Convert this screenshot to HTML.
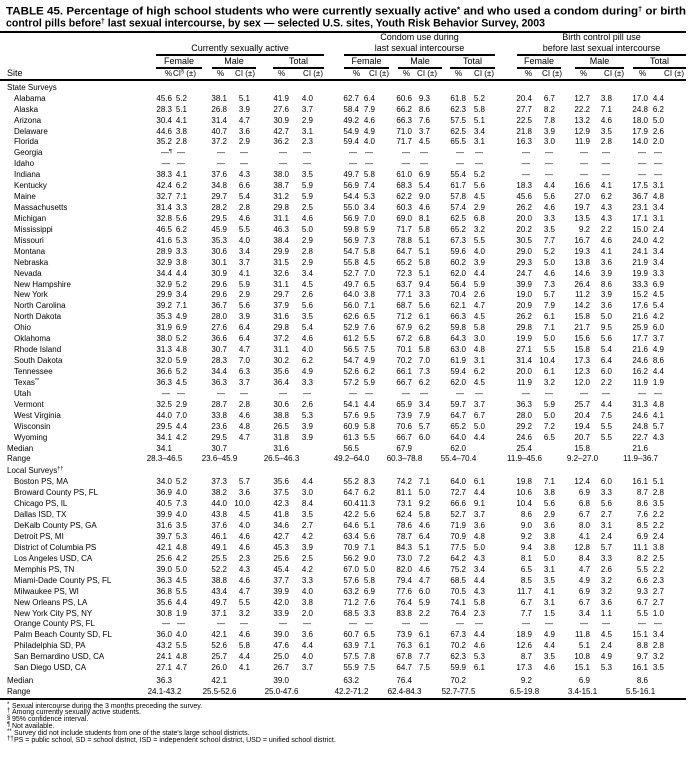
<!DOCTYPE html>
<html><head><meta charset="utf-8"><style>
*{margin:0;padding:0}
body{width:698px;height:768px;overflow:hidden;background:#fff;position:relative;font-family:"Liberation Sans",Arial,sans-serif;color:#000}
.a{position:absolute;white-space:nowrap;line-height:1}
.h{font-size:9px}
.s{font-size:8px}
.f{font-size:7px}
.c{text-align:center}
.rt{text-align:right}
.ln{position:absolute;background:#000;height:2px}
.sp{position:relative;top:-2.5px;font-size:5.5px}
.r{position:absolute;left:0;display:flex;font-size:8px;line-height:1;white-space:nowrap}
.r b{font-weight:normal;width:150px;padding-left:14px;box-sizing:border-box;flex:none}
.r b.t{padding-left:7px}
.r i{font-style:normal;text-align:right;flex:none;box-sizing:border-box}
.r i.d{padding-right:2px}
.r i:nth-of-type(1){width:22px}.r i:nth-of-type(2){width:15px}
.r i:nth-of-type(3){width:40px}.r i:nth-of-type(4){width:23px}
.r i:nth-of-type(5){width:39px}.r i:nth-of-type(6){width:24px}
.r i:nth-of-type(7){width:46px}.r i:nth-of-type(8){width:16px}
.r i:nth-of-type(9){width:37px}.r i:nth-of-type(10){width:18px}
.r i:nth-of-type(11){width:36px}.r i:nth-of-type(12){width:19px}
.r i:nth-of-type(13){width:47px}.r i:nth-of-type(14){width:23px}
.r i:nth-of-type(15){width:35px}.r i:nth-of-type(16){width:22px}
.r i:nth-of-type(17){width:36px}.r i:nth-of-type(18){width:16px}
.rg{position:absolute;width:60px;text-align:center;font-size:8px;line-height:1;white-space:nowrap}
</style></head><body>

<svg class="a" style="left:0;top:0" width="698" height="32">
<text x="6" y="14.5" font-family="Liberation Sans, Arial, sans-serif" font-size="11" font-weight="bold" textLength="680" lengthAdjust="spacingAndGlyphs">TABLE 45. Percentage of high school students who were currently sexually active<tspan font-size="8" dy="-2">*</tspan><tspan dy="2"> and who used a condom during</tspan><tspan font-size="7" dy="-3">†</tspan><tspan dy="3"> or birth</tspan></text>
<text x="6" y="26.5" font-family="Liberation Sans, Arial, sans-serif" font-size="11" font-weight="bold" textLength="539" lengthAdjust="spacingAndGlyphs">control pills before<tspan font-size="7" dy="-3">†</tspan><tspan dy="3"> last sexual intercourse, by sex — selected U.S. sites, Youth Risk Behavior Survey, 2003</tspan></text>
</svg>

<div class="ln" style="left:0;width:686px;top:31px"></div>

<div class="a h c" style="left:156px;width:168px;top:44.4px">Currently sexually active</div>
<div class="a h c" style="left:344px;width:151px;top:33.4px">Condom use during</div>
<div class="a h c" style="left:344px;width:151px;top:44.4px">last sexual intercourse</div>
<div class="a h c" style="left:517px;width:169px;top:33.4px">Birth control pill use</div>
<div class="a h c" style="left:517px;width:169px;top:44.4px">before last sexual intercourse</div>

<div class="ln" style="left:156px;width:168px;top:54px"></div>
<div class="ln" style="left:344px;width:151px;top:54px"></div>
<div class="ln" style="left:517px;width:169px;top:54px"></div>

<div class="a h c" style="left:156px;width:46px;top:57.2px">Female</div>
<div class="a h c" style="left:212px;width:44px;top:57.2px">Male</div>
<div class="a h c" style="left:273px;width:51px;top:57.2px">Total</div>
<div class="a h c" style="left:344px;width:45px;top:57.2px">Female</div>
<div class="a h c" style="left:398px;width:44px;top:57.2px">Male</div>
<div class="a h c" style="left:450px;width:45px;top:57.2px">Total</div>
<div class="a h c" style="left:517px;width:44px;top:57.2px">Female</div>
<div class="a h c" style="left:575px;width:49px;top:57.2px">Male</div>
<div class="a h c" style="left:633px;width:53px;top:57.2px">Total</div>

<div class="ln" style="left:156px;width:46px;top:67px"></div>
<div class="ln" style="left:212px;width:44px;top:67px"></div>
<div class="ln" style="left:273px;width:51px;top:67px"></div>
<div class="ln" style="left:344px;width:45px;top:67px"></div>
<div class="ln" style="left:398px;width:44px;top:67px"></div>
<div class="ln" style="left:450px;width:45px;top:67px"></div>
<div class="ln" style="left:517px;width:44px;top:67px"></div>
<div class="ln" style="left:575px;width:49px;top:67px"></div>
<div class="ln" style="left:633px;width:53px;top:67px"></div>

<div class="a h" style="left:7px;top:68.9px">Site</div>
<div class="a s" style="left:165px;top:69.7px">%</div>
<div class="a s" style="left:217px;top:69.7px">%</div>
<div class="a s" style="left:278px;top:69.7px">%</div>
<div class="a s" style="left:353px;top:69.7px">%</div>
<div class="a s" style="left:403px;top:69.7px">%</div>
<div class="a s" style="left:455px;top:69.7px">%</div>
<div class="a s" style="left:525px;top:69.7px">%</div>
<div class="a s" style="left:580px;top:69.7px">%</div>
<div class="a s" style="left:639px;top:69.7px">%</div>
<div class="a s rt" style="right:502px;top:69.7px">CI<span class="sp">§</span> (±)</div>
<div class="a s rt" style="right:443px;top:69.7px">CI (±)</div>
<div class="a s rt" style="right:375px;top:69.7px">CI (±)</div>
<div class="a s rt" style="right:309px;top:69.7px">CI (±)</div>
<div class="a s rt" style="right:261px;top:69.7px">CI (±)</div>
<div class="a s rt" style="right:204px;top:69.7px">CI (±)</div>
<div class="a s rt" style="right:136px;top:69.7px">CI (±)</div>
<div class="a s rt" style="right:74px;top:69.7px">CI (±)</div>
<div class="a s rt" style="right:14px;top:69.7px">CI (±)</div>

<div class="ln" style="left:0;width:686px;top:79px"></div>

<div class="a s" style="left:7px;top:84.2px">State Surveys</div>

<div class="r" style="top:94.7px"><b>Alabama</b><i>45.6</i><i>5.2</i><i>38.1</i><i>5.1</i><i>41.9</i><i>4.0</i><i>62.7</i><i>6.4</i><i>60.6</i><i>9.3</i><i>61.8</i><i>5.2</i><i>20.4</i><i>6.7</i><i>12.7</i><i>3.8</i><i>17.0</i><i>4.4</i></div>
<div class="r" style="top:105.6px"><b>Alaska</b><i>28.3</i><i>5.1</i><i>26.8</i><i>3.9</i><i>27.6</i><i>3.7</i><i>58.4</i><i>7.9</i><i>66.2</i><i>8.6</i><i>62.3</i><i>5.8</i><i>27.7</i><i>8.2</i><i>22.2</i><i>7.1</i><i>24.8</i><i>6.2</i></div>
<div class="r" style="top:116.6px"><b>Arizona</b><i>30.4</i><i>4.1</i><i>31.4</i><i>4.7</i><i>30.9</i><i>2.9</i><i>49.2</i><i>4.6</i><i>66.3</i><i>7.6</i><i>57.5</i><i>5.1</i><i>22.5</i><i>7.8</i><i>13.2</i><i>4.6</i><i>18.0</i><i>5.0</i></div>
<div class="r" style="top:127.5px"><b>Delaware</b><i>44.6</i><i>3.8</i><i>40.7</i><i>3.6</i><i>42.7</i><i>3.1</i><i>54.9</i><i>4.9</i><i>71.0</i><i>3.7</i><i>62.5</i><i>3.4</i><i>21.8</i><i>3.9</i><i>12.9</i><i>3.5</i><i>17.9</i><i>2.6</i></div>
<div class="r" style="top:138.4px"><b>Florida</b><i>35.2</i><i>2.8</i><i>37.2</i><i>2.9</i><i>36.2</i><i>2.3</i><i>59.4</i><i>4.0</i><i>71.7</i><i>4.5</i><i>65.5</i><i>3.1</i><i>16.3</i><i>3.0</i><i>11.9</i><i>2.8</i><i>14.0</i><i>2.0</i></div>
<div class="r" style="top:149.4px"><b>Georgia</b><i>—<span class="sp">¶</span></i><i class="d">—</i><i class="d">—</i><i class="d">—</i><i class="d">—</i><i class="d">—</i><i class="d">—</i><i class="d">—</i><i class="d">—</i><i class="d">—</i><i class="d">—</i><i class="d">—</i><i class="d">—</i><i class="d">—</i><i class="d">—</i><i class="d">—</i><i class="d">—</i><i class="d">—</i></div>
<div class="r" style="top:160.3px"><b>Idaho</b><i class="d">—</i><i class="d">—</i><i class="d">—</i><i class="d">—</i><i class="d">—</i><i class="d">—</i><i class="d">—</i><i class="d">—</i><i class="d">—</i><i class="d">—</i><i class="d">—</i><i class="d">—</i><i class="d">—</i><i class="d">—</i><i class="d">—</i><i class="d">—</i><i class="d">—</i><i class="d">—</i></div>
<div class="r" style="top:171.2px"><b>Indiana</b><i>38.3</i><i>4.1</i><i>37.6</i><i>4.3</i><i>38.0</i><i>3.5</i><i>49.7</i><i>5.8</i><i>61.0</i><i>6.9</i><i>55.4</i><i>5.2</i><i class="d">—</i><i class="d">—</i><i class="d">—</i><i class="d">—</i><i class="d">—</i><i class="d">—</i></div>
<div class="r" style="top:182.1px"><b>Kentucky</b><i>42.4</i><i>6.2</i><i>34.8</i><i>6.6</i><i>38.7</i><i>5.9</i><i>56.9</i><i>7.4</i><i>68.3</i><i>5.4</i><i>61.7</i><i>5.6</i><i>18.3</i><i>4.4</i><i>16.6</i><i>4.1</i><i>17.5</i><i>3.1</i></div>
<div class="r" style="top:193.1px"><b>Maine</b><i>32.7</i><i>7.1</i><i>29.7</i><i>5.4</i><i>31.2</i><i>5.9</i><i>54.4</i><i>5.3</i><i>62.2</i><i>9.0</i><i>57.8</i><i>4.5</i><i>45.6</i><i>5.6</i><i>27.0</i><i>6.2</i><i>36.7</i><i>4.8</i></div>
<div class="r" style="top:204.0px"><b>Massachusetts</b><i>31.4</i><i>3.3</i><i>28.2</i><i>2.8</i><i>29.8</i><i>2.5</i><i>55.0</i><i>3.4</i><i>60.3</i><i>4.6</i><i>57.4</i><i>2.9</i><i>26.2</i><i>4.6</i><i>19.7</i><i>4.3</i><i>23.1</i><i>3.4</i></div>
<div class="r" style="top:214.9px"><b>Michigan</b><i>32.8</i><i>5.6</i><i>29.5</i><i>4.6</i><i>31.1</i><i>4.6</i><i>56.9</i><i>7.0</i><i>69.0</i><i>8.1</i><i>62.5</i><i>6.8</i><i>20.0</i><i>3.3</i><i>13.5</i><i>4.3</i><i>17.1</i><i>3.1</i></div>
<div class="r" style="top:225.9px"><b>Mississippi</b><i>46.5</i><i>6.2</i><i>45.9</i><i>5.5</i><i>46.3</i><i>5.0</i><i>59.8</i><i>5.9</i><i>71.7</i><i>5.8</i><i>65.2</i><i>3.2</i><i>20.2</i><i>3.5</i><i>9.2</i><i>2.2</i><i>15.0</i><i>2.4</i></div>
<div class="r" style="top:236.8px"><b>Missouri</b><i>41.6</i><i>5.3</i><i>35.3</i><i>4.0</i><i>38.4</i><i>2.9</i><i>56.9</i><i>7.3</i><i>78.8</i><i>5.1</i><i>67.3</i><i>5.5</i><i>30.5</i><i>7.7</i><i>16.7</i><i>4.6</i><i>24.0</i><i>4.2</i></div>
<div class="r" style="top:247.7px"><b>Montana</b><i>28.9</i><i>3.3</i><i>30.6</i><i>3.4</i><i>29.9</i><i>2.8</i><i>54.7</i><i>5.8</i><i>64.7</i><i>5.1</i><i>59.6</i><i>4.0</i><i>29.0</i><i>5.2</i><i>19.3</i><i>4.1</i><i>24.1</i><i>3.4</i></div>
<div class="r" style="top:258.7px"><b>Nebraska</b><i>32.9</i><i>3.8</i><i>30.1</i><i>3.7</i><i>31.5</i><i>2.9</i><i>55.8</i><i>4.5</i><i>65.2</i><i>5.8</i><i>60.2</i><i>3.9</i><i>29.3</i><i>5.0</i><i>13.8</i><i>3.6</i><i>21.9</i><i>3.4</i></div>
<div class="r" style="top:269.6px"><b>Nevada</b><i>34.4</i><i>4.4</i><i>30.9</i><i>4.1</i><i>32.6</i><i>3.4</i><i>52.7</i><i>7.0</i><i>72.3</i><i>5.1</i><i>62.0</i><i>4.4</i><i>24.7</i><i>4.6</i><i>14.6</i><i>3.9</i><i>19.9</i><i>3.3</i></div>
<div class="r" style="top:280.5px"><b>New Hampshire</b><i>32.9</i><i>5.2</i><i>29.6</i><i>5.9</i><i>31.1</i><i>4.5</i><i>49.7</i><i>6.5</i><i>63.7</i><i>9.4</i><i>56.4</i><i>5.9</i><i>39.9</i><i>7.3</i><i>26.4</i><i>8.6</i><i>33.3</i><i>6.9</i></div>
<div class="r" style="top:291.4px"><b>New York</b><i>29.9</i><i>3.4</i><i>29.6</i><i>2.9</i><i>29.7</i><i>2.6</i><i>64.0</i><i>3.8</i><i>77.1</i><i>3.3</i><i>70.4</i><i>2.6</i><i>19.0</i><i>5.7</i><i>11.2</i><i>3.9</i><i>15.2</i><i>4.5</i></div>
<div class="r" style="top:302.4px"><b>North Carolina</b><i>39.2</i><i>7.1</i><i>36.7</i><i>5.6</i><i>37.9</i><i>5.6</i><i>56.0</i><i>7.1</i><i>68.7</i><i>5.6</i><i>62.1</i><i>4.7</i><i>20.9</i><i>7.9</i><i>14.2</i><i>3.6</i><i>17.6</i><i>5.4</i></div>
<div class="r" style="top:313.3px"><b>North Dakota</b><i>35.3</i><i>4.9</i><i>28.0</i><i>3.9</i><i>31.6</i><i>3.5</i><i>62.6</i><i>6.5</i><i>71.2</i><i>6.1</i><i>66.3</i><i>4.5</i><i>26.2</i><i>6.1</i><i>15.8</i><i>5.0</i><i>21.6</i><i>4.2</i></div>
<div class="r" style="top:324.2px"><b>Ohio</b><i>31.9</i><i>6.9</i><i>27.6</i><i>6.4</i><i>29.8</i><i>5.4</i><i>52.9</i><i>7.6</i><i>67.9</i><i>6.2</i><i>59.8</i><i>5.8</i><i>29.8</i><i>7.1</i><i>21.7</i><i>9.5</i><i>25.9</i><i>6.0</i></div>
<div class="r" style="top:335.2px"><b>Oklahoma</b><i>38.0</i><i>5.2</i><i>36.6</i><i>6.4</i><i>37.2</i><i>4.6</i><i>61.2</i><i>5.5</i><i>67.2</i><i>6.8</i><i>64.3</i><i>3.0</i><i>19.9</i><i>5.0</i><i>15.6</i><i>5.6</i><i>17.7</i><i>3.7</i></div>
<div class="r" style="top:346.1px"><b>Rhode Island</b><i>31.3</i><i>4.8</i><i>30.7</i><i>4.7</i><i>31.1</i><i>4.0</i><i>56.5</i><i>7.5</i><i>70.1</i><i>5.8</i><i>63.0</i><i>4.8</i><i>27.1</i><i>5.5</i><i>15.8</i><i>5.4</i><i>21.6</i><i>4.9</i></div>
<div class="r" style="top:357.0px"><b>South Dakota</b><i>32.0</i><i>5.9</i><i>28.3</i><i>7.0</i><i>30.2</i><i>6.2</i><i>54.7</i><i>4.9</i><i>70.2</i><i>7.0</i><i>61.9</i><i>3.1</i><i>31.4</i><i>10.4</i><i>17.3</i><i>6.4</i><i>24.6</i><i>8.6</i></div>
<div class="r" style="top:368.0px"><b>Tennessee</b><i>36.6</i><i>5.2</i><i>34.4</i><i>6.3</i><i>35.6</i><i>4.9</i><i>52.6</i><i>6.2</i><i>66.1</i><i>7.3</i><i>59.4</i><i>6.2</i><i>20.0</i><i>6.1</i><i>12.3</i><i>6.0</i><i>16.2</i><i>4.4</i></div>
<div class="r" style="top:378.9px"><b>Texas<span class="sp">**</span></b><i>36.3</i><i>4.5</i><i>36.3</i><i>3.7</i><i>36.4</i><i>3.3</i><i>57.2</i><i>5.9</i><i>66.7</i><i>6.2</i><i>62.0</i><i>4.5</i><i>11.9</i><i>3.2</i><i>12.0</i><i>2.2</i><i>11.9</i><i>1.9</i></div>
<div class="r" style="top:389.8px"><b>Utah</b><i class="d">—</i><i class="d">—</i><i class="d">—</i><i class="d">—</i><i class="d">—</i><i class="d">—</i><i class="d">—</i><i class="d">—</i><i class="d">—</i><i class="d">—</i><i class="d">—</i><i class="d">—</i><i class="d">—</i><i class="d">—</i><i class="d">—</i><i class="d">—</i><i class="d">—</i><i class="d">—</i></div>
<div class="r" style="top:400.7px"><b>Vermont</b><i>32.5</i><i>2.9</i><i>28.7</i><i>2.8</i><i>30.6</i><i>2.6</i><i>54.1</i><i>4.4</i><i>65.9</i><i>3.4</i><i>59.7</i><i>3.7</i><i>36.3</i><i>5.9</i><i>25.7</i><i>4.4</i><i>31.3</i><i>4.8</i></div>
<div class="r" style="top:411.7px"><b>West Virginia</b><i>44.0</i><i>7.0</i><i>33.8</i><i>4.6</i><i>38.8</i><i>5.3</i><i>57.6</i><i>9.5</i><i>73.9</i><i>7.9</i><i>64.7</i><i>6.7</i><i>28.0</i><i>5.0</i><i>20.4</i><i>7.5</i><i>24.6</i><i>4.1</i></div>
<div class="r" style="top:422.6px"><b>Wisconsin</b><i>29.5</i><i>4.4</i><i>23.6</i><i>4.8</i><i>26.5</i><i>3.9</i><i>60.9</i><i>5.8</i><i>70.6</i><i>5.7</i><i>65.2</i><i>5.0</i><i>29.2</i><i>7.2</i><i>19.4</i><i>5.5</i><i>24.8</i><i>5.7</i></div>
<div class="r" style="top:433.5px"><b>Wyoming</b><i>34.1</i><i>4.2</i><i>29.5</i><i>4.7</i><i>31.8</i><i>3.9</i><i>61.3</i><i>5.5</i><i>66.7</i><i>6.0</i><i>64.0</i><i>4.4</i><i>24.6</i><i>6.5</i><i>20.7</i><i>5.5</i><i>22.7</i><i>4.3</i></div>

<div class="r" style="top:444.7px"><b class="t">Median</b><i>34.1</i><i></i><i>30.7</i><i></i><i>31.6</i><i></i><i>56.5</i><i></i><i>67.9</i><i></i><i>62.0</i><i></i><i>25.4</i><i></i><i>15.8</i><i></i><i>21.6</i><i></i></div>
<div class="r" style="top:455.2px"><b class="t">Range</b></div>
<div class="rg" style="left:134.5px;top:455.2px">28.3–46.5</div>
<div class="rg" style="left:189.5px;top:455.2px">23.6–45.9</div>
<div class="rg" style="left:251.5px;top:455.2px">26.5–46.3</div>
<div class="rg" style="left:321.5px;top:455.2px">49.2–64.0</div>
<div class="rg" style="left:374.5px;top:455.2px">60.3–78.8</div>
<div class="rg" style="left:428.5px;top:455.2px">55.4–70.4</div>
<div class="rg" style="left:494.5px;top:455.2px">11.9–45.6</div>
<div class="rg" style="left:552.5px;top:455.2px">9.2–27.0</div>
<div class="rg" style="left:610.5px;top:455.2px">11.9–36.7</div>

<div class="a s" style="left:7px;top:466.7px">Local Surveys<span class="sp">††</span></div>

<div class="r" style="top:478.2px"><b>Boston PS, MA</b><i>34.0</i><i>5.2</i><i>37.3</i><i>5.7</i><i>35.6</i><i>4.4</i><i>55.2</i><i>8.3</i><i>74.2</i><i>7.1</i><i>64.0</i><i>6.1</i><i>19.8</i><i>7.1</i><i>12.4</i><i>6.0</i><i>16.1</i><i>5.1</i></div>
<div class="r" style="top:489.1px"><b>Broward County PS, FL</b><i>36.9</i><i>4.0</i><i>38.2</i><i>3.6</i><i>37.5</i><i>3.0</i><i>64.7</i><i>6.2</i><i>81.1</i><i>5.0</i><i>72.7</i><i>4.4</i><i>10.6</i><i>3.8</i><i>6.9</i><i>3.3</i><i>8.7</i><i>2.8</i></div>
<div class="r" style="top:500.1px"><b>Chicago PS, IL</b><i>40.5</i><i>7.3</i><i>44.0</i><i>10.0</i><i>42.3</i><i>8.4</i><i>60.4</i><i>11.3</i><i>73.1</i><i>9.2</i><i>66.6</i><i>9.1</i><i>10.4</i><i>5.6</i><i>6.8</i><i>5.6</i><i>8.6</i><i>3.5</i></div>
<div class="r" style="top:511.0px"><b>Dallas ISD, TX</b><i>39.9</i><i>4.0</i><i>43.8</i><i>4.5</i><i>41.8</i><i>3.5</i><i>42.2</i><i>5.6</i><i>62.4</i><i>5.8</i><i>52.7</i><i>3.7</i><i>8.6</i><i>2.9</i><i>6.7</i><i>2.7</i><i>7.6</i><i>2.2</i></div>
<div class="r" style="top:522.0px"><b>DeKalb County PS, GA</b><i>31.6</i><i>3.5</i><i>37.6</i><i>4.0</i><i>34.6</i><i>2.7</i><i>64.6</i><i>5.1</i><i>78.6</i><i>4.6</i><i>71.9</i><i>3.6</i><i>9.0</i><i>3.6</i><i>8.0</i><i>3.1</i><i>8.5</i><i>2.2</i></div>
<div class="r" style="top:532.9px"><b>Detroit PS, MI</b><i>39.7</i><i>5.3</i><i>46.1</i><i>4.6</i><i>42.7</i><i>4.2</i><i>63.4</i><i>5.6</i><i>78.7</i><i>6.4</i><i>70.9</i><i>4.8</i><i>9.2</i><i>3.8</i><i>4.1</i><i>2.4</i><i>6.9</i><i>2.4</i></div>
<div class="r" style="top:543.8px"><b>District of Columbia PS</b><i>42.1</i><i>4.8</i><i>49.1</i><i>4.6</i><i>45.3</i><i>3.9</i><i>70.9</i><i>7.1</i><i>84.3</i><i>5.1</i><i>77.5</i><i>5.0</i><i>9.4</i><i>3.8</i><i>12.8</i><i>5.7</i><i>11.1</i><i>3.8</i></div>
<div class="r" style="top:554.8px"><b>Los Angeles USD, CA</b><i>25.6</i><i>4.2</i><i>25.5</i><i>2.3</i><i>25.6</i><i>2.5</i><i>56.2</i><i>9.0</i><i>73.0</i><i>7.2</i><i>64.2</i><i>4.3</i><i>8.1</i><i>5.0</i><i>8.4</i><i>3.3</i><i>8.2</i><i>2.5</i></div>
<div class="r" style="top:565.7px"><b>Memphis PS, TN</b><i>39.0</i><i>5.0</i><i>52.2</i><i>4.3</i><i>45.4</i><i>4.2</i><i>67.0</i><i>5.0</i><i>82.0</i><i>4.6</i><i>75.2</i><i>3.4</i><i>6.5</i><i>3.1</i><i>4.7</i><i>2.6</i><i>5.5</i><i>2.2</i></div>
<div class="r" style="top:576.7px"><b>Miami-Dade County PS, FL</b><i>36.3</i><i>4.5</i><i>38.8</i><i>4.6</i><i>37.7</i><i>3.3</i><i>57.6</i><i>5.8</i><i>79.4</i><i>4.7</i><i>68.5</i><i>4.4</i><i>8.5</i><i>3.5</i><i>4.9</i><i>3.2</i><i>6.6</i><i>2.3</i></div>
<div class="r" style="top:587.6px"><b>Milwaukee PS, WI</b><i>36.8</i><i>5.5</i><i>43.4</i><i>4.7</i><i>39.9</i><i>4.0</i><i>63.2</i><i>6.9</i><i>77.6</i><i>6.0</i><i>70.5</i><i>4.3</i><i>11.7</i><i>4.1</i><i>6.9</i><i>3.2</i><i>9.3</i><i>2.7</i></div>
<div class="r" style="top:598.5px"><b>New Orleans PS, LA</b><i>35.6</i><i>4.4</i><i>49.7</i><i>5.5</i><i>42.0</i><i>3.8</i><i>71.2</i><i>7.6</i><i>76.4</i><i>5.9</i><i>74.1</i><i>5.8</i><i>6.7</i><i>3.1</i><i>6.7</i><i>3.6</i><i>6.7</i><i>2.7</i></div>
<div class="r" style="top:609.5px"><b>New York City PS, NY</b><i>30.8</i><i>1.9</i><i>37.1</i><i>3.2</i><i>33.9</i><i>2.0</i><i>68.5</i><i>3.3</i><i>83.8</i><i>2.2</i><i>76.4</i><i>2.3</i><i>7.7</i><i>1.5</i><i>3.4</i><i>1.1</i><i>5.5</i><i>1.0</i></div>
<div class="r" style="top:620.4px"><b>Orange County PS, FL</b><i class="d">—</i><i class="d">—</i><i class="d">—</i><i class="d">—</i><i class="d">—</i><i class="d">—</i><i class="d">—</i><i class="d">—</i><i class="d">—</i><i class="d">—</i><i class="d">—</i><i class="d">—</i><i class="d">—</i><i class="d">—</i><i class="d">—</i><i class="d">—</i><i class="d">—</i><i class="d">—</i></div>
<div class="r" style="top:631.4px"><b>Palm Beach County SD, FL</b><i>36.0</i><i>4.0</i><i>42.1</i><i>4.6</i><i>39.0</i><i>3.6</i><i>60.7</i><i>6.5</i><i>73.9</i><i>6.1</i><i>67.3</i><i>4.4</i><i>18.9</i><i>4.9</i><i>11.8</i><i>4.5</i><i>15.1</i><i>3.4</i></div>
<div class="r" style="top:642.3px"><b>Philadelphia SD, PA</b><i>43.2</i><i>5.5</i><i>52.6</i><i>5.8</i><i>47.6</i><i>4.4</i><i>63.9</i><i>7.1</i><i>76.3</i><i>6.1</i><i>70.2</i><i>4.6</i><i>12.6</i><i>4.4</i><i>5.1</i><i>2.4</i><i>8.8</i><i>2.8</i></div>
<div class="r" style="top:653.2px"><b>San Bernardino USD, CA</b><i>24.1</i><i>4.8</i><i>25.7</i><i>4.4</i><i>25.0</i><i>4.0</i><i>57.5</i><i>7.8</i><i>67.8</i><i>7.7</i><i>62.3</i><i>5.3</i><i>8.7</i><i>3.5</i><i>10.8</i><i>4.9</i><i>9.7</i><i>3.2</i></div>
<div class="r" style="top:664.2px"><b>San Diego USD, CA</b><i>27.1</i><i>4.7</i><i>26.0</i><i>4.1</i><i>26.7</i><i>3.7</i><i>55.9</i><i>7.5</i><i>64.7</i><i>7.5</i><i>59.9</i><i>6.1</i><i>17.3</i><i>4.6</i><i>15.1</i><i>5.3</i><i>16.1</i><i>3.5</i></div>

<div class="r" style="top:676.7px"><b class="t">Median</b><i>36.3</i><i></i><i>42.1</i><i></i><i>39.0</i><i></i><i>63.2</i><i></i><i>76.4</i><i></i><i>70.2</i><i></i><i>9.2</i><i></i><i>6.9</i><i></i><i>8.6</i><i></i></div>
<div class="r" style="top:687.7px"><b class="t">Range</b></div>
<div class="rg" style="left:134.5px;top:687.7px">24.1-43.2</div>
<div class="rg" style="left:189.5px;top:687.7px">25.5-52.6</div>
<div class="rg" style="left:251.5px;top:687.7px">25.0-47.6</div>
<div class="rg" style="left:321.5px;top:687.7px">42.2-71.2</div>
<div class="rg" style="left:374.5px;top:687.7px">62.4-84.3</div>
<div class="rg" style="left:428.5px;top:687.7px">52.7-77.5</div>
<div class="rg" style="left:494.5px;top:687.7px">6.5-19.8</div>
<div class="rg" style="left:552.5px;top:687.7px">3.4-15.1</div>
<div class="rg" style="left:610.5px;top:687.7px">5.5-16.1</div>

<div class="ln" style="left:0;width:686px;top:697.5px"></div>

<div class="a f" style="left:7px;top:701.6px;font-size:6px">*</div>
<div class="a f" style="left:12px;top:702.6px">Sexual intercourse during the 3 months preceding the survey.</div>
<div class="a f" style="left:7px;top:708.4px;font-size:6px">†</div>
<div class="a f" style="left:12px;top:709.4px">Among currently sexually active students.</div>
<div class="a f" style="left:7px;top:715.2px;font-size:6px">§</div>
<div class="a f" style="left:12px;top:716.2px">95% confidence interval.</div>
<div class="a f" style="left:7px;top:722.0px;font-size:6px">¶</div>
<div class="a f" style="left:12px;top:723.0px">Not available.</div>
<div class="a f" style="left:7px;top:728.8px;font-size:6px">**</div>
<div class="a f" style="left:14px;top:729.8px">Survey did not include students from one of the state's large school districts.</div>
<div class="a f" style="left:7px;top:735.6px;font-size:6px">††</div>
<div class="a f" style="left:14px;top:736.6px">PS = public school, SD = school district, ISD = independent school district, USD = unified school district.</div>

</body></html>
